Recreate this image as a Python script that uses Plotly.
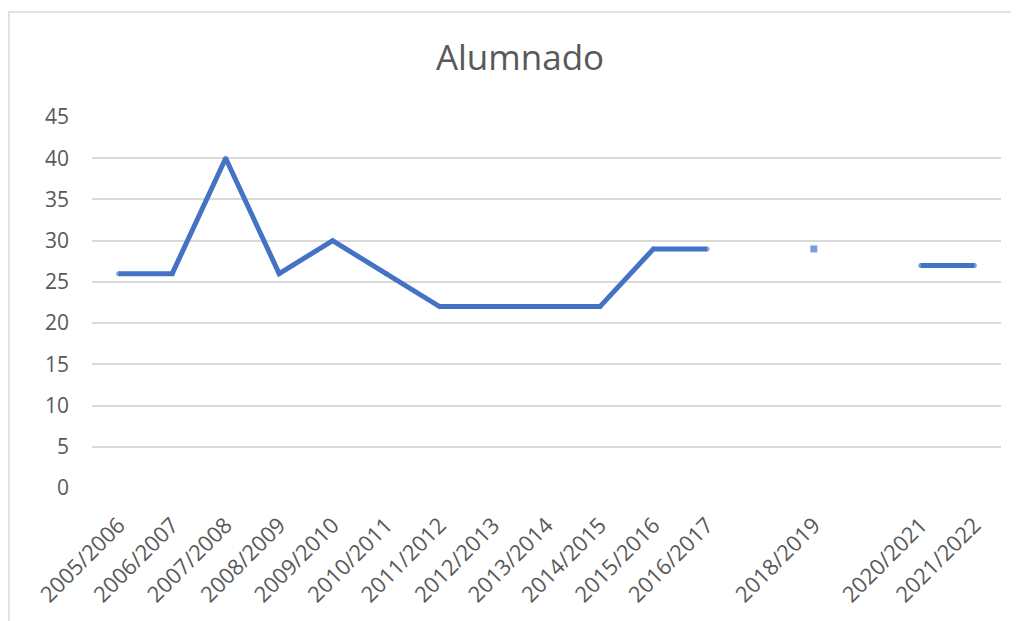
import plotly.graph_objects as go

categories = ["2005/2006", "2006/2007", "2007/2008", "2008/2009", "2009/2010",
              "2010/2011", "2011/2012", "2012/2013", "2013/2014", "2014/2015",
              "2015/2016", "2016/2017", "2017/2018", "2018/2019", "2019/2020",
              "2020/2021", "2021/2022"]
tick_labels = ["2005/2006", "2006/2007", "2007/2008", "2008/2009", "2009/2010",
               "2010/2011", "2011/2012", "2012/2013", "2013/2014", "2014/2015",
               "2015/2016", "2016/2017", "", "2018/2019", "",
               "2020/2021", "2021/2022"]
alumnado = [26, 26, 40, 26, 30, 26, 22, 22, 22, 22, 29, 29, None, 29, None, 27, 27]
y_ticks = [0, 5, 10, 15, 20, 25, 30, 35, 40, 45]

LINE_W = 5

# small round markers give the line round caps/joins; isolated points get a square
marker_sizes, marker_symbols = [], []
for i, v in enumerate(alumnado):
    prev_v = alumnado[i - 1] if i > 0 else None
    next_v = alumnado[i + 1] if i < len(alumnado) - 1 else None
    isolated = v is not None and prev_v is None and next_v is None
    marker_sizes.append(7 if isolated else LINE_W)
    marker_symbols.append("square" if isolated else "circle")

BLUE = "#4472C4"
GREY_TEXT = "#595959"
GRID = "#D9D9D9"
FONT = "Open Sans"

fig = go.Figure()
fig.add_trace(go.Scatter(
    x=categories, y=alumnado, mode="lines+markers",
    line=dict(color=BLUE, width=LINE_W),
    marker=dict(color=BLUE, size=marker_sizes, symbol=marker_symbols, line=dict(width=0)),
    connectgaps=False, hoverinfo="x+y", showlegend=False,
))

# the page places the figure 8px in from the top-left corner
OFF = 8
W, H = 1019, 621
L = 92 - OFF
T = 117 - OFF
R = W - (1001 - OFF)
B = H - (488 - OFF)
plot_w = W - L - R
plot_h = H - T - B

fig.update_layout(
    width=W, height=H,
    margin=dict(l=L, r=R, t=T, b=B, autoexpand=False),
    paper_bgcolor="white", plot_bgcolor="white",
    font=dict(family=FONT, color=GREY_TEXT),
    title=dict(text="Alumnado", x=(520 - OFF) / W, xanchor="center",
               y=1 - (58 - OFF) / H, yanchor="middle", yref="container",
               font=dict(family=FONT, size=35, color=GREY_TEXT)),
    xaxis=dict(type="category", categoryorder="array", categoryarray=categories,
               range=[-0.5, len(categories) - 0.5],
               tickvals=categories, ticktext=tick_labels, tickangle=-45,
               showgrid=False, showline=False, zeroline=False, ticks="",
               automargin=False,
               tickfont=dict(family=FONT, size=22, color=GREY_TEXT),
               ticklabelstandoff=19),
    yaxis=dict(range=[0, 45], tickvals=y_ticks, showgrid=True, gridcolor=GRID,
               gridwidth=1.5, zeroline=False, showline=False, ticks="",
               automargin=False,
               tickfont=dict(family=FONT, size=21, color=GREY_TEXT),
               ticklabelstandoff=22),
    shapes=[dict(type="rect", xref="paper", yref="paper",
                 x0=(8 - OFF - L + 1) / plot_w, x1=(W + 20 - L) / plot_w,
                 y0=-(B + 20) / plot_h, y1=(H - B - (12 - OFF)) / plot_h,
                 line=dict(color=GRID, width=1.5), fillcolor="rgba(0,0,0,0)", layer="below")],
)

fig.write_html("out.html")
